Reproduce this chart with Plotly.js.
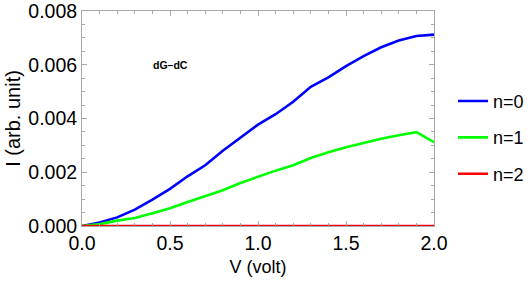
<!DOCTYPE html>
<html>
<head>
<meta charset="utf-8">
<script src="https://cdn.plot.ly/plotly-3.0.1.min.js"></script>
<style>html,body{margin:0;padding:0;background:#fff;}#chart{width:532px;height:284px;}</style>
</head>
<body>
<div id="chart"></div>
<script>
const voltage = [0.0, 0.1, 0.2, 0.3, 0.4, 0.5, 0.6, 0.7, 0.8, 0.9, 1.0, 1.1, 1.2, 1.3, 1.4, 1.5, 1.6, 1.7, 1.8, 1.9, 2.0];
const current_n0 = [0.0, 0.00013, 0.00032, 0.00061, 0.00098, 0.00138, 0.00185, 0.00226, 0.0028, 0.0033, 0.00377, 0.00416, 0.00462, 0.00518, 0.00553, 0.00595, 0.00632, 0.00665, 0.0069, 0.00707, 0.00712];
const current_n1 = [0.0, 0.00007, 0.0002, 0.0003, 0.00047, 0.00066, 0.00089, 0.0011, 0.00133, 0.0016, 0.00184, 0.00206, 0.00226, 0.00253, 0.00274, 0.00293, 0.00309, 0.00325, 0.00338, 0.00349, 0.00312];
const current_n2 = [0, 0, 0, 0, 0, 0, 0, 0, 0, 0, 0, 0, 0, 0, 0, 0, 0, 0, 0, 0, 0];
const seriesNames = ["n=0", "n=1", "n=2"];
const annotationText = "dG\u2013dC";
const xTitle = "V (volt)";
const yTitle = "I (arb. unit)";

const colors = ["rgb(0,0,255)", "rgb(0,255,0)", "rgb(255,0,0)"];
const series = [current_n0, current_n1, current_n2];
const traces = series.map((ys, i) => ({
  x: voltage, y: ys, type: "scatter", mode: "lines", name: seriesNames[i],
  legendgroup: "g" + i, cliponaxis: false,
  line: {color: colors[i], width: 2.6}
}));

const axisCommon = {
  showline: true, mirror: "ticks", linecolor: "#a8a8a8", linewidth: 1,
  ticks: "inside", ticklen: 5, tickcolor: "#a8a8a8", tickwidth: 1,
  showgrid: false, zeroline: false, ticklabeloverflow: "allow",
  tickfont: {family: "Liberation Sans, Arial, sans-serif", size: 19.5, color: "#000"}
};

const layout = {
  width: 532, height: 284,
  margin: {l: 82, r: 98, t: 11, b: 58, autoexpand: false},
  paper_bgcolor: "#fff", plot_bgcolor: "#fff",
  font: {family: "Liberation Sans, Arial, sans-serif", color: "#000"},
  xaxis: Object.assign({}, axisCommon, {
    range: [0, 2], tick0: 0, dtick: 0.5, tickformat: ".1f",
    minor: {dtick: 0.1, ticks: "inside", ticklen: 3, tickcolor: "#a8a8a8"},
    title: {text: xTitle, font: {size: 18}, standoff: 6}
  }),
  yaxis: Object.assign({}, axisCommon, {
    range: [0, 0.0080001], tick0: 0, dtick: 0.002, tickformat: ".3f",
    minor: {dtick: 0.0005, ticks: "inside", ticklen: 3, tickcolor: "#a8a8a8"},
    title: {text: yTitle, font: {size: 20}, standoff: 2}
  }),
  showlegend: true,
  legend: {x: 1.054, y: 0.666, xanchor: "left", yanchor: "top",
    font: {size: 18}, tracegroupgap: 10, bgcolor: "rgba(0,0,0,0)"},
  annotations: [{x: 0.5, y: 0.006, xref: "x", yref: "y", text: "<b>" + annotationText + "</b>",
    showarrow: false, font: {size: 10.5, color: "#000"}}]
};

Plotly.newPlot("chart", traces, layout, {displayModeBar: false, staticPlot: true});
</script>
</body>
</html>
